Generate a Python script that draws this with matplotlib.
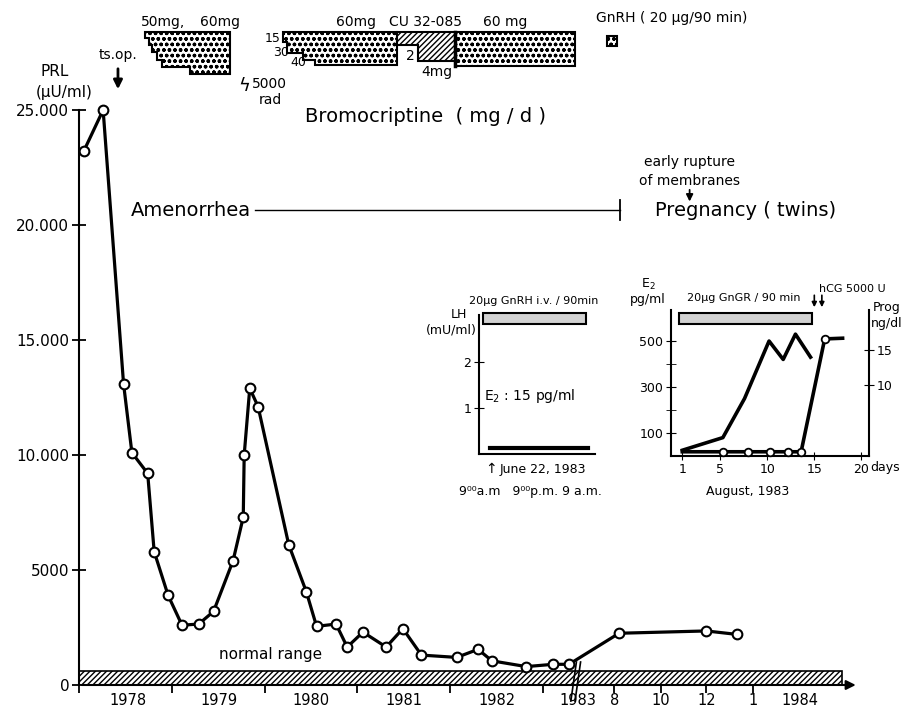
import matplotlib.pyplot as plt
from matplotlib.patches import Polygon, Rectangle
import matplotlib.transforms as mtransforms

plt.rcParams['font.family'] = 'DejaVu Sans'
plt.rcParams['hatch.linewidth'] = 1.0

W, H = 910, 709

# PRL course; x = position on time axis (years from Jan 1978, compressed after the 1983 break)
prl_x = [0.05, 0.26, 0.48, 0.57, 0.74, 0.81, 0.96, 1.11, 1.29, 1.45, 1.66, 1.77, 1.78,
         1.84, 1.93, 2.26, 2.45, 2.56, 2.77, 2.89, 3.06, 3.31, 3.49, 3.69, 4.07, 4.30,
         4.45, 4.82, 5.11, 5.28, 5.82, 6.76, 7.09]
prl_val = [23200, 25000, 13100, 10100, 9200, 5800, 3900, 2600, 2650, 3200, 5400, 7300, 10000,
           12900, 12100, 6100, 4050, 2550, 2650, 1650, 2300, 1650, 2450, 1300, 1200, 1550,
           1050, 800, 900, 900, 2250, 2350, 2200]
normal_upper = 600

year_bounds = [0, 1, 2, 3, 4, 5]
year_label_pos = [0.53, 1.51, 2.5, 3.5, 4.5, 5.38, 7.77]
year_labels = ['1978', '1979', '1980', '1981', '1982', '1983', '1984']
month_pos = [5.77, 6.27, 6.76, 7.26]
month_labels = ['8', '10', '12', '1']
prl_ticks = [0, 5000, 10000, 15000, 20000, 25000]
prl_ticklabels = ['0', '5000', '10.000', '15.000', '20.000', '25.000']

# LH inset (June 22, 1983), hours from 9 a.m.
lh_hours = [0, 24]
lh_val = [0.12, 0.12]

# August 1983 inset
e2_day = [1, 5.3, 7.6, 10.2, 11.7, 13.0, 14.6]
e2_val = [25, 80, 250, 500, 420, 530, 430]
prog_day = [1, 5.3, 8.0, 10.3, 12.2, 13.6, 16.1, 18.0]
prog_val = [0.6, 0.6, 0.6, 0.6, 0.6, 0.6, 16.6, 16.7]

fig = plt.figure(figsize=(W / 100, H / 100), dpi=100)

def frame(x0, y0, x1, y1):
    return [x0 / W, 1 - y1 / H, (x1 - x0) / W, (y1 - y0) / H]

# ---------------- main PRL axes
ax = fig.add_axes(frame(79, 110, 870, 685))
ax.set_xlim(0, 791 / 92.8)
ax.set_ylim(0, 25000)
for s in ['top', 'right', 'bottom']:
    ax.spines[s].set_visible(False)
ax.spines['left'].set_linewidth(1.5)

ax.add_patch(Rectangle((0, 0), 8.22, normal_upper, facecolor='white', edgecolor='black',
                       hatch='//////', linewidth=1.2, zorder=1))
ax.text(2.06, 1000, 'normal range', fontsize=11, ha='center', va='bottom')

ax.plot(prl_x, prl_val, color='black', lw=2.3, marker='o', ms=7, mfc='white', mec='black',
        mew=1.5, clip_on=False, zorder=5)

ax.annotate('', xy=(8.4, 0), xytext=(0, 0),
            arrowprops=dict(arrowstyle='-|>', color='black', lw=1.5, mutation_scale=14),
            annotation_clip=False)
# axis break
for dx in (0, 0.045):
    ax.plot([5.30 + dx, 5.36 + dx], [-700, 1000], color='black', lw=1.2, clip_on=False, zorder=6)

ax.set_yticks(prl_ticks)
ax.set_yticklabels(prl_ticklabels, fontsize=11)
ax.tick_params(axis='y', direction='inout', length=10, width=1.3, pad=2)
ax.set_xticks(year_bounds + month_pos)
ax.set_xticklabels([''] * len(year_bounds) + month_labels, fontsize=10.5)
ax.set_xticks(year_label_pos, minor=True)
ax.set_xticklabels(year_labels, minor=True, fontsize=10.5)
ax.tick_params(axis='x', which='major', direction='out', length=6, width=1.3, pad=0)
ax.tick_params(axis='x', which='minor', length=0, pad=6)

# phases
ax.text(1.21, 20650, 'Amenorrhea', fontsize=14, ha='center', va='center')
ax.plot([1.90, 5.83], [20650, 20650], color='black', lw=1)
ax.plot([5.83, 5.83], [20200, 21100], color='black', lw=1.3)
ax.text(7.18, 20650, 'Pregnancy ( twins)', fontsize=14, ha='center', va='center')
ax.text(6.58, 22740, 'early rupture', fontsize=10, ha='center', va='center')
ax.text(6.58, 21910, 'of membranes', fontsize=10, ha='center', va='center')
ax.annotate('', xy=(6.58, 20900), xytext=(6.58, 21650),
            arrowprops=dict(arrowstyle='-|>', color='black', lw=1.3, mutation_scale=10))

# ---------------- top band: surgery, radiation and drug periods
top = fig.add_axes(frame(79, 0, 870, 130))
top.set_xlim(ax.get_xlim())
top.set_ylim(130, 0)
top.axis('off')
top.patch.set_alpha(0)

dot = dict(facecolor='white', edgecolor='black', hatch='ooo', linewidth=1.5)
bar1 = [(0.711, 32), (1.63, 32), (1.63, 74), (1.20, 74), (1.20, 67), (0.89, 67), (0.89, 60),
        (0.84, 60), (0.84, 52), (0.79, 52), (0.79, 45), (0.75, 45), (0.75, 38), (0.711, 38)]
bar2 = [(2.198, 32), (3.427, 32), (3.427, 65), (2.543, 65), (2.543, 60), (2.414, 60),
        (2.414, 53), (2.241, 53), (2.241, 42), (2.198, 42)]
bar3 = [(4.052, 32), (5.345, 32), (5.345, 66), (4.052, 66)]
for b in (bar1, bar2, bar3):
    top.add_patch(Polygon(b, closed=True, **dot))
cu = [(3.427, 32), (4.052, 32), (4.052, 61), (3.653, 61), (3.653, 45), (3.427, 45)]
top.add_patch(Polygon(cu, closed=True, facecolor='white', edgecolor='black', hatch='//////',
                      linewidth=1.5))
top.plot([4.052, 4.052], [32, 66], color='black', lw=2.5)
top.add_patch(Rectangle((5.69, 36), 0.11, 10, **dot))

tk = dict(fontsize=10, ha='center', va='center')
top.text(0.905, 22, '50mg,', **tk)
top.text(1.52, 22, '60mg', **tk)
top.text(2.99, 22, '60mg', **tk)
top.text(3.73, 22, 'CU 32-085', **tk)
top.text(4.59, 22, '60 mg', **tk)
top.text(6.39, 18, 'GnRH ( 20 µg/90 min)', **tk)
top.text(2.09, 38, '15', fontsize=9, ha='center', va='center')
top.text(2.18, 52, '30', fontsize=9, ha='center', va='center')
top.text(2.36, 63, '40', fontsize=9, ha='center', va='center')
top.text(3.57, 56, '2', **tk)
top.text(3.86, 72, '4mg', **tk)
top.text(1.78, 86, 'ϟ', fontsize=13, ha='center', va='center')
top.text(2.05, 84, '5000', fontsize=10, ha='center', va='center')
top.text(2.06, 100, 'rad', fontsize=10, ha='center', va='center')
top.text(3.73, 117, 'Bromocriptine  ( mg / d )', fontsize=14, ha='center', va='center')
top.text(0.42, 55, 'ts.op.', fontsize=10, ha='center', va='center')
top.annotate('', xy=(0.42, 92), xytext=(0.42, 66),
             arrowprops=dict(arrowstyle='-|>', color='black', lw=2, mutation_scale=13))
top.text(-0.26, 72, 'PRL', fontsize=11, ha='center', va='center')
top.text(-0.16, 92, '(µU/ml)', fontsize=11, ha='center', va='center')

# ---------------- LH inset
lh = fig.add_axes(frame(479, 315, 595, 454))
lh.set_xlim(-2.7, 25.6)
lh.set_ylim(0, 3.02)
for s in ['top', 'right']:
    lh.spines[s].set_visible(False)
lh.spines['left'].set_linewidth(1.5)
lh.spines['bottom'].set_linewidth(1.5)
lh.plot(lh_hours, lh_val, color='black', lw=3)
lh.set_xticks([])
lh.set_yticks([1, 2])
lh.tick_params(axis='y', direction='inout', length=7, labelsize=9, pad=2)
btr = mtransforms.blended_transform_factory(lh.transData, lh.transAxes)
lh.add_patch(Rectangle((-1.7, 0.935), 25.1, 0.08, transform=btr, facecolor='#d2d2d2',
                       edgecolor='black', lw=1.5, clip_on=False))
lh.text(0.47, 1.1, '20µg GnRH i.v. / 90min', transform=lh.transAxes, fontsize=8,
        ha='center', va='center')
lh.text(-0.1, 1.0, 'LH', transform=lh.transAxes, fontsize=9, ha='right', va='center')
lh.text(-0.02, 0.89, '(mU/ml)', transform=lh.transAxes, fontsize=9, ha='right', va='center')
lh.text(0.44, 0.42, 'E$_2$ : 15 pg/ml', transform=lh.transAxes, fontsize=10,
        ha='center', va='center')
fig.text(491 / W, 1 - 469 / H, '↑', fontsize=10, ha='center', va='center')
fig.text(543 / W, 1 - 469 / H, 'June 22, 1983', fontsize=9, ha='center', va='center')
fig.text(530 / W, 1 - 491 / H, '9⁰⁰a.m   9⁰⁰p.m. 9 a.m.', fontsize=9, ha='center',
         va='center')

# ---------------- E2 / progesterone inset
e2 = fig.add_axes(frame(671, 310, 869, 456))
e2.set_xlim(-0.2, 20.8)
e2.set_ylim(0, 635)
for s in ['top', 'right']:
    e2.spines[s].set_visible(False)
e2.spines['left'].set_linewidth(1.5)
e2.spines['bottom'].set_linewidth(1.5)
e2.plot(e2_day, e2_val, color='black', lw=2.6, clip_on=False)
e2.set_yticks([100, 300, 500])
e2.set_yticks([200, 400], minor=True)
e2.tick_params(axis='y', which='both', direction='inout', length=7, labelsize=9, pad=2)
e2.set_xticks([1, 5, 10, 15, 20])
e2.set_xticklabels(['1', '5', '10', '15', '20'])
e2.tick_params(axis='x', direction='inout', length=6, labelsize=9, pad=2)

pg = e2.twinx()
pg.set_ylim(0, 20.7)
for s in ['top', 'left', 'bottom']:
    pg.spines[s].set_visible(False)
pg.spines['right'].set_linewidth(1.5)
pg.plot(prog_day, prog_val, color='black', lw=2.6, marker='o', ms=5.5, mfc='white',
        mec='black', mew=1.3, markevery=[1, 2, 3, 4, 5, 6], clip_on=False)
pg.set_yticks([10, 15])
pg.tick_params(axis='y', direction='inout', length=7, labelsize=9, pad=2)

btr2 = mtransforms.blended_transform_factory(e2.transData, e2.transAxes)
e2.add_patch(Rectangle((0.65, 0.904), 14.1, 0.075, transform=btr2, facecolor='#d2d2d2',
                       edgecolor='black', lw=1.5, clip_on=False))
fig.text(744 / W, 1 - 298 / H, '20µg GnGR / 90 min', fontsize=8, ha='center', va='center')
fig.text(648 / W, 1 - 284 / H, 'E$_2$', fontsize=9, ha='center', va='center')
fig.text(648 / W, 1 - 300 / H, 'pg/ml', fontsize=9, ha='center', va='center')
fig.text(852 / W, 1 - 289 / H, 'hCG 5000 U', fontsize=8, ha='center', va='center')
for d in (15.0, 15.8):
    e2.annotate('', xy=(d, 1.0), xytext=(d, 1.12), xycoords=btr2, textcoords=btr2,
                arrowprops=dict(arrowstyle='-|>', color='black', lw=1.2, mutation_scale=7))
fig.text(887 / W, 1 - 308 / H, 'Prog', fontsize=9, ha='center', va='center')
fig.text(887 / W, 1 - 324 / H, 'ng/dl', fontsize=9, ha='center', va='center')
fig.text(885 / W, 1 - 467 / H, 'days', fontsize=9, ha='center', va='center')
fig.text(748 / W, 1 - 491 / H, 'August, 1983', fontsize=9, ha='center', va='center')

fig.savefig('out.png', dpi=100)
